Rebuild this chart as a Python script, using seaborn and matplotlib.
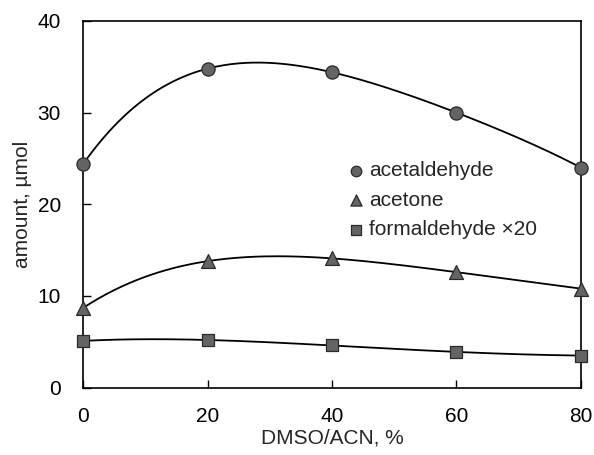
import numpy as np
import pandas as pd
import matplotlib
matplotlib.use("Agg")
import matplotlib.pyplot as plt
import seaborn as sns

x_vals = [0, 20, 40, 60, 80]
acetaldehyde = [24.4, 34.8, 34.4, 30.0, 24.0]
acetone = [8.7, 13.8, 14.1, 12.6, 10.8]
formaldehyde = [5.1, 5.2, 4.6, 3.9, 3.5]
labels = ["acetaldehyde", "acetone", "formaldehyde \u00d720"]
markers = ["o", "^", "s"]

sns.set_theme(style="white")
plt.rcParams['font.family'] = ['Liberation Sans', 'DejaVu Sans']


def smooth(xs, ys, n=200):
    """Polynomial trend curve passing through the data points."""
    x = np.asarray(xs, float)
    y = np.asarray(ys, float)
    coef = np.polyfit(x / 80.0, y, len(x) - 1)
    xx = np.linspace(x[0], x[-1], n)
    return xx, np.polyval(coef, xx / 80.0)


fig, ax = plt.subplots(figsize=(5.94, 4.55), dpi=100)
fig.subplots_adjust(left=0.14, right=0.978, top=0.954, bottom=0.148)

for ys, lab, m in zip([acetaldehyde, acetone, formaldehyde], labels, markers):
    sx, sy = smooth(x_vals, ys)
    sns.lineplot(x=sx, y=sy, ax=ax, color="black", linewidth=1.3, sort=False,
                 legend=False)
    df = pd.DataFrame({"x": x_vals, "y": ys})
    sns.scatterplot(data=df, x="x", y="y", ax=ax, marker=m,
                    s={"o": 90, "^": 100, "s": 80}[m],
                    color="#646464", edgecolor="#2a2a2a", linewidth=0.9,
                    label=lab, zorder=5, clip_on=False)

ax.set_xlim(0, 80)
ax.set_ylim(0, 40)
ax.set_xticks([0, 20, 40, 60, 80])
ax.set_yticks([0, 10, 20, 30, 40])
ax.tick_params(direction="in", length=6, width=1, labelsize=15, pad=14,
               bottom=True, left=True, colors="black")
ax.tick_params(axis="y", pad=16)
for s in ax.spines.values():
    s.set_color("black")
    s.set_linewidth(1.2)
ax.set_xlabel("DMSO/ACN, %", fontsize=15, labelpad=2)
ax.set_ylabel("amount, \u00b5mol", fontsize=15, labelpad=4)

leg = ax.legend(loc="upper left", bbox_to_anchor=(0.515, 0.64), frameon=False,
                fontsize=15, handletextpad=0.2, labelspacing=0.5,
                handlelength=0.8, borderaxespad=0, markerscale=0.8)

fig.savefig("out.png", dpi=100)
